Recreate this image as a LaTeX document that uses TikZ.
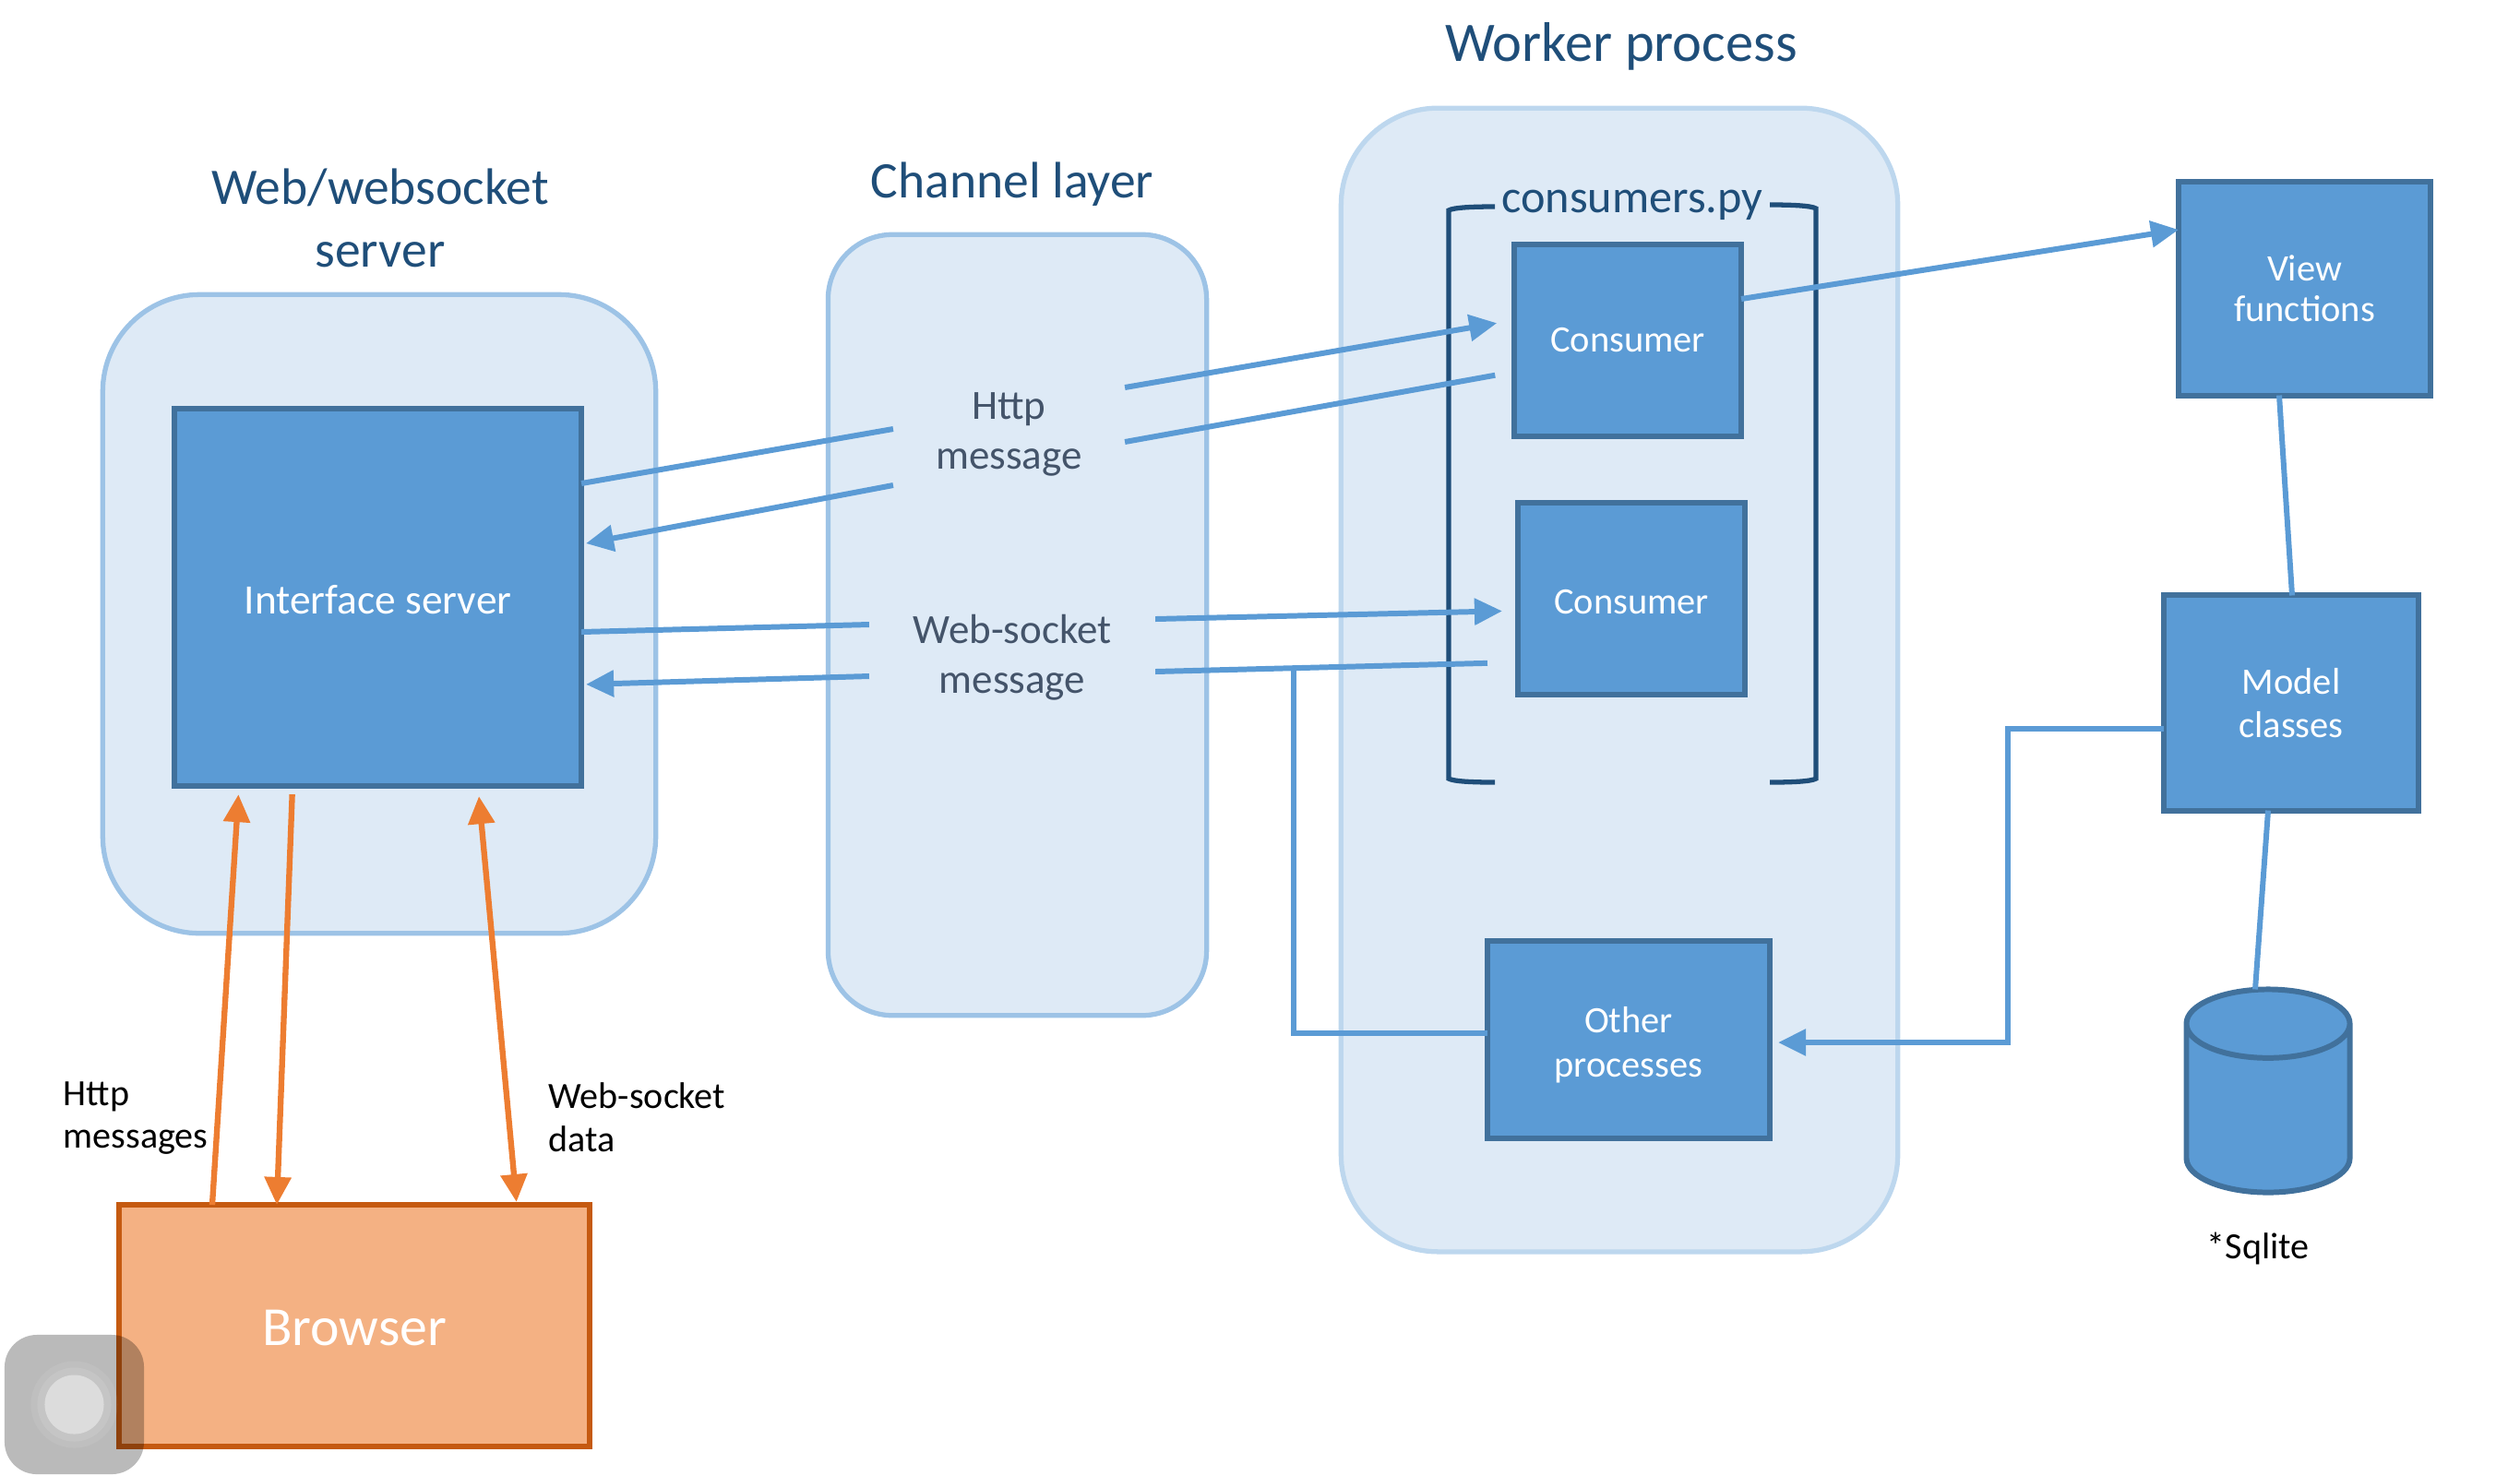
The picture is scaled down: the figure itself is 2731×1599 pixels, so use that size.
\documentclass[tikz,border=0pt]{standalone}
\usepackage{fontspec}
\setmainfont{Carlito}
\usetikzlibrary{shapes.geometric,arrows.meta}
\definecolor{areafill}{HTML}{DEEAF6}
\definecolor{areaweb}{HTML}{9DC3E6}
\definecolor{areawork}{HTML}{BDD7EE}
\definecolor{boxfill}{HTML}{5B9BD5}
\definecolor{boxline}{HTML}{41719C}
\definecolor{titleblue}{HTML}{1F4E79}
\definecolor{msggray}{HTML}{44546A}
\definecolor{linkorange}{HTML}{ED7D31}
\definecolor{browserfill}{HTML}{F4B183}
\definecolor{browserline}{HTML}{C55A11}

\begin{document}
\begin{tikzpicture}[x=0.01cm, y=-0.01cm, >={Triangle[length=3mm,width=2.8mm]},
  area/.style={rectangle, draw=#1, fill=areafill, line width=1.5pt, inner sep=0pt, outer sep=0pt},
  box/.style={rectangle, draw=boxline, fill=boxfill, line width=1.7pt, text=white, align=center,
    inner sep=0pt, outer sep=0pt, font=\fontsize{11.5}{13.6}\selectfont},
  title/.style={text=titleblue, align=center, font=\fontsize{15.8}{19.3}\selectfont},
  msg/.style={text=msggray, align=center, inner sep=0pt, outer sep=0pt, minimum height=1cm,
    font=\fontsize{12.8}{15.3}\selectfont},
  lab/.style={align=left, anchor=west, inner sep=0pt, font=\fontsize{11.4}{13.3}\selectfont},
  link/.style={draw=boxfill, line width=1.7pt},
  olink/.style={draw=linkorange, line width=1.8pt},
  bracket/.style={draw=titleblue, line width=1.5pt}]
  \useasboundingbox (0,0) rectangle (2731,1599);

  \node[area=areaweb, minimum width=5.99cm, minimum height=6.92cm, rounded corners=1.05cm] (web) at (411,665.5) {};
  \node[area=areaweb, minimum width=4.1cm, minimum height=8.46cm, rounded corners=.7cm] (channel) at (1102.5,677.5) {};
  \node[area=areawork, minimum width=6.03cm, minimum height=12.39cm, rounded corners=1.05cm] (worker) at (1755,737) {};

  \node[title] (webtitle) at (412,236) {Web/websocket\\server};
  \node[title] (chantitle) at (1097,200) {Channel layer};
  \node[title, font=\fontsize{17.2}{20}\selectfont] (worktitle) at (1757,50) {Worker process};

  \draw[bracket] (1620,224) .. controls (1595,224) and (1575,225) .. (1570,228) -- (1570,844) .. controls (1575,847) and (1595,848) .. (1620,848);
  \draw[bracket] (1918,222) .. controls (1943,222) and (1963,223) .. (1968,226) -- (1968,844) .. controls (1963,847) and (1943,848) .. (1918,848);
  \node[text=titleblue, inner sep=0pt, font=\fontsize{14.3}{16}\selectfont] (conslab) at (1769,222) {consumers.py};

  \node[box, minimum width=4.41cm, minimum height=4.09cm, font=\fontsize{12.9}{15}\selectfont] (iface) at (409.5,647.5) {\rule{0pt}{10.6pt}Interface server};
  \node[box, minimum width=2.46cm, minimum height=2.08cm] (con1) at (1764,369) {Consumer};
  \node[box, minimum width=2.46cm, minimum height=2.08cm] (con2) at (1768,649) {\rule{0pt}{9.2pt}Consumer};
  \node[box, minimum width=3.06cm, minimum height=2.14cm] (other) at (1765,1127) {\rule{0pt}{11pt}Other\\processes};
  \node[box, minimum width=2.73cm, minimum height=2.31cm, font=\fontsize{11.5}{12.4}\selectfont] (view) at (2497.5,313) {View\\functions};
  \node[box, minimum width=2.76cm, minimum height=2.33cm] (model) at (2483,762) {Model\\classes};
  \node[cylinder, shape border rotate=90, draw=boxline, fill=boxfill, line width=1.7pt, shape aspect=.42,
    minimum height=2.2cm, inner xsep=.885cm, inner ysep=.5cm, outer sep=0pt, anchor=shape center] (db) at (2458,1182.5) {};
  \node[inner sep=0pt, font=\fontsize{11.4}{13.3}\selectfont] (dblab) at (2447,1353) {*Sqlite};

  \node[rectangle, draw=browserline, fill=browserfill, line width=1.7pt, text=white, inner sep=0pt, outer sep=0pt,
    minimum width=5.1cm, minimum height=2.62cm, font=\fontsize{17}{20}\selectfont] (browser) at (384,1437) {\rule{0pt}{12.6pt}Browser};

  \node[msg, minimum width=2.51cm] (http) at (1093.5,471) {Http\\message};
  \node[msg, minimum width=3.1cm] (ws) at (1097,713) {Web-socket\\message};
  \node[lab] (httplab) at (68,1212) {Http\\messages};
  \node[lab] (wslab) at (594,1211) {Web-socket\\data};

  \draw[link] (iface.east |- 0,524) -- (http.west |- 0,465);
  \draw[link, ->, shorten >=.05cm] (http.west |- 0,526) -- (iface.east |- 0,590);
  \draw[link, ->, shorten >=.19cm] (http.east |- 0,420) -- (con1.west |- 0,347);
  \draw[link, shorten >=.21cm] (http.east |- 0,479) -- (con1.west |- 0,403);
  \draw[link] (iface.east |- 0,685) -- (ws.west |- 0,677);
  \draw[link, ->, shorten >=.05cm] (ws.west |- 0,733) -- (iface.east |- 0,742);
  \draw[link, ->, shorten >=.17cm] (ws.east |- 0,671) -- (con2.west |- 0,662);
  \draw[link, shorten >=.33cm] (ws.east |- 0,728) -- (con2.west |- 0,718);
  \coordinate (tee) at (1402,724);
  \draw[link] (other.west |- 0,1120) -| (tee);
  \draw[link, ->] (con1.east |- 0,324) -- (view.west |- 0,249);
  \draw[link] (2470,0 |- view.south) -- (2484,0 |- model.north);
  \draw[link] (2458,0 |- model.south) -- (2444,0 |- db.north);
  \coordinate (bend) at (2176,790);
  \draw[link, ->, shorten >=.09cm] (model.west |- bend) -- (bend) |- (other.east |- 0,1130);

  \draw[olink, ->, shorten >=.09cm] (230,0 |- browser.north) -- (259,0 |- iface.south);
  \draw[olink, ->, shorten <=.09cm] (317,0 |- iface.south) -- (300,0 |- browser.north);
  \draw[olink, <->, shorten <=.11cm, shorten >=.03cm] (518,0 |- iface.south) -- (560,0 |- browser.north);

  \node[rectangle, fill=black, fill opacity=.27, minimum width=1.51cm, minimum height=1.51cm, rounded corners=.35cm, inner sep=0pt] (touch) at (80.5,1522.5) {};
  \node[circle, fill=white, fill opacity=.07, minimum size=.94cm, inner sep=0pt] (ringa) at (touch) {};
  \node[circle, fill=white, fill opacity=.1, minimum size=.8cm, inner sep=0pt] (ringb) at (touch) {};
  \node[circle, fill=white, fill opacity=.4, minimum size=.64cm, inner sep=0pt] (ringc) at (touch) {};
\end{tikzpicture}
\end{document}
